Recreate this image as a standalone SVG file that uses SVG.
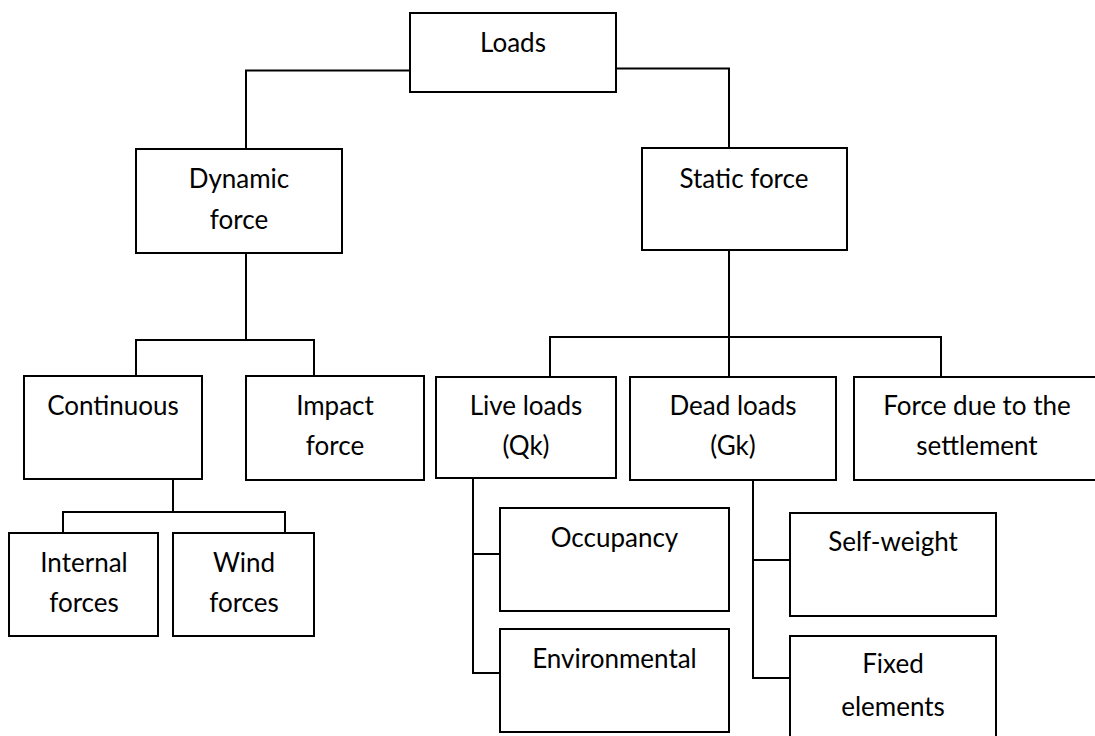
<svg xmlns="http://www.w3.org/2000/svg" width="1095" height="736" viewBox="0 0 1095 736">
<style>
.box{fill:#fff;stroke:#000;stroke-width:2}
.t{font-family:Lato,"Liberation Sans",sans-serif;font-size:26px;fill:#000;text-anchor:middle}
.c{fill:none;stroke:#000;stroke-width:2}
</style>
<rect width="1095" height="736" fill="#fff"/>
<g id="connectors" class="c">
<polyline points="410,70.5 246,70.5 246,149"/>
<polyline points="616,68.5 729,68.5 729,148"/>
<line x1="246" y1="253" x2="246" y2="340"/>
<polyline points="136,376 136,340 314,340 314,376"/>
<line x1="729" y1="250" x2="729" y2="377"/>
<polyline points="550,377 550,337 941,337 941,377"/>
<line x1="173" y1="479" x2="173" y2="512"/>
<polyline points="63,533 63,512 285,512 285,533"/>
<polyline points="473,477 473,673 500,673"/>
<line x1="473" y1="554" x2="500" y2="554"/>
<polyline points="753,480 753,678 790,678"/>
<line x1="753" y1="560" x2="790" y2="560"/>
</g>
<g id="loads"><rect class="box" x="410" y="13" width="206" height="79"/><text class="t" x="513" y="52">Loads</text></g>
<g id="dynamic"><rect class="box" x="136" y="149" width="206" height="104"/><text class="t" x="239" y="188">Dynamic</text><text class="t" x="239" y="229">force</text></g>
<g id="static"><rect class="box" x="642" y="148" width="205" height="102"/><text class="t" x="744" y="188">Static force</text></g>
<g id="continuous"><rect class="box" x="24" y="376" width="178" height="103"/><text class="t" x="113" y="415">Continuous</text></g>
<g id="impact"><rect class="box" x="246" y="376" width="178" height="104"/><text class="t" x="335" y="415">Impact</text><text class="t" x="335" y="455">force</text></g>
<g id="live"><rect class="box" x="436" y="377" width="180" height="101"/><text class="t" x="526" y="415">Live loads</text><text class="t" x="526" y="455">(Qk)</text></g>
<g id="dead"><rect class="box" x="630" y="377" width="206" height="103"/><text class="t" x="733" y="415">Dead loads</text><text class="t" x="733" y="455">(Gk)</text></g>
<g id="settlement"><rect class="box" x="854" y="377" width="246" height="103"/><text class="t" x="977" y="415">Force due to the</text><text class="t" x="977" y="455">settlement</text></g>
<g id="internal"><rect class="box" x="9" y="533" width="149" height="103"/><text class="t" x="84" y="572">Internal</text><text class="t" x="84" y="612">forces</text></g>
<g id="wind"><rect class="box" x="173" y="533" width="141" height="103"/><text class="t" x="244" y="572">Wind</text><text class="t" x="244" y="612">forces</text></g>
<g id="occupancy"><rect class="box" x="500" y="508" width="229" height="103"/><text class="t" x="614.5" y="547">Occupancy</text></g>
<g id="environmental"><rect class="box" x="500" y="629" width="229" height="103"/><text class="t" x="614.5" y="668">Environmental</text></g>
<g id="selfweight"><rect class="box" x="790" y="513" width="206" height="103"/><text class="t" x="893" y="551">Self-weight</text></g>
<g id="fixed"><rect class="box" x="790" y="636" width="206" height="110"/><text class="t" x="893" y="673">Fixed</text><text class="t" x="893" y="716">elements</text></g>
</svg>
